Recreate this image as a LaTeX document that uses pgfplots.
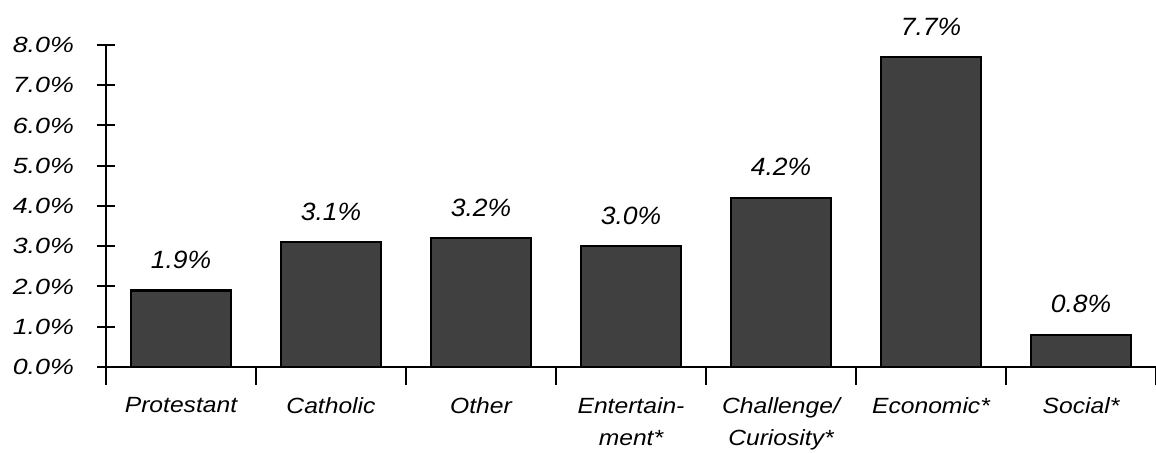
\documentclass[border=0pt]{standalone}
\usepackage{fontspec}
\setmainfont{Liberation Sans}
\newfontfamily\tickfont[FakeStretch=1.22]{Liberation Sans}
\newfontfamily\catfont[FakeStretch=1.12]{Liberation Sans}
\newfontfamily\valfont[FakeStretch=1.06]{Liberation Sans}
\usepackage{pgfplots}
\pgfplotsset{compat=1.18}
\definecolor{barfill}{HTML}{404040}

\pgfplotstableread{
x    val
0.5  1.9
1.5  3.1
2.5  3.2
3.5  3.0
4.5  4.2
5.5  7.7
6.5  0.8
}\motives

\begin{document}
\begin{tikzpicture}
\path[use as bounding box] (-53pt,-43pt) rectangle (525pt,183.5pt);
\begin{axis}[
  at={(0,0)}, anchor=south west,
  scale only axis, width=525pt, height=161pt,
  xmin=0, xmax=7, ymin=0, ymax=8,
  clip=false,
  axis lines=left,
  axis line style={-, line width=1pt},
  tick style={line width=1pt, black},
  tick align=center,
  major tick length=9pt,
  ytick={0,...,8},
  yticklabels={0.0\%,1.0\%,2.0\%,3.0\%,4.0\%,5.0\%,6.0\%,7.0\%,8.0\%},
  yticklabel style={font=\tickfont\itshape\fontsize{11}{13}\selectfont, anchor=east, xshift=-8pt},
  xtick={0,...,7},
  xticklabels={},
  extra x ticks={0.5,1.5,2.5,3.5,4.5,5.5,6.5},
  extra x tick style={major tick length=0pt},
  extra x tick labels={Protestant,Catholic,Other,{Entertain-\\ment*},{Challenge/\\Curiosity*},Economic*,Social*},
  xticklabel style={font=\catfont\itshape\fontsize{11}{16}\selectfont, align=center, anchor=north, yshift=-11.5pt},
  ybar, bar width=0.667,
  nodes near coords={\pgfmathprintnumber[fixed,fixed zerofill,precision=1,assume math mode=true]{\pgfplotspointmeta}\%},
  every node near coord/.append style={font=\valfont\itshape\fontsize{12.5}{15}\selectfont, anchor=base, yshift=11pt, black},
]
\addplot[fill=barfill, draw=black, line width=1.2pt] table[x=x, y=val] {\motives};
\end{axis}
\end{tikzpicture}
\end{document}
